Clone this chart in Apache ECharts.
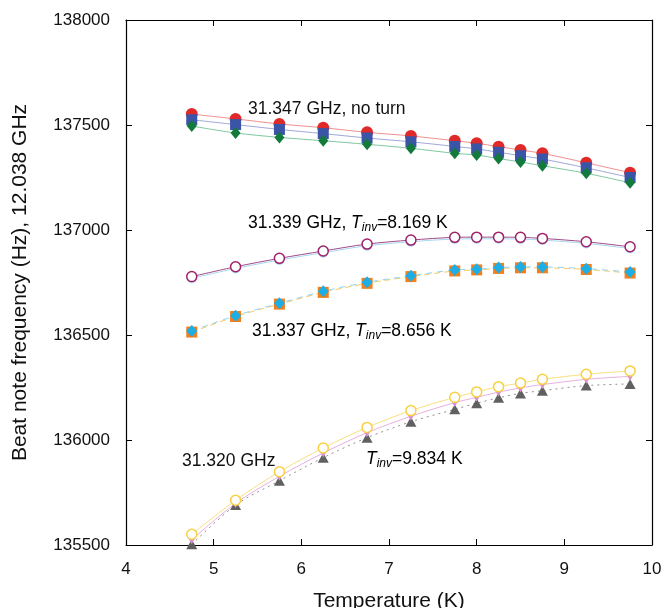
<!DOCTYPE html>
<html>
<head>
<meta charset="utf-8">
<script src="https://cdn.jsdelivr.net/npm/echarts@6/dist/echarts.min.js"></script>
<style>
html,body{margin:0;padding:0;background:#fff;}
#c{width:666px;height:608px;}
</style>
</head>
<body>
<div id="c"></div>
<script>
// Temperatures (K)
var temps = [4.75, 5.25, 5.75, 6.25, 6.75, 7.25, 7.75, 8.0, 8.25, 8.5, 8.75, 9.25, 9.75];

// 31.347 GHz, no turn
var noTurnRed   = [137552, 137529, 137505, 137487, 137465, 137448, 137425, 137413, 137397, 137381, 137365, 137320, 137273];
var noTurnBlue  = [137525, 137502, 137479, 137459, 137438, 137420, 137398, 137386, 137370, 137354, 137338, 137296, 137250];
var noTurnGreen = [137495, 137462, 137441, 137425, 137408, 137389, 137365, 137357, 137340, 137324, 137306, 137270, 137225];

// 31.339 GHz, Tinv = 8.169 K
var f339Purple = [136778, 136825, 136865, 136900, 136933, 136952, 136965, 136966, 136966, 136965, 136960, 136944, 136920];
var f339Light  = [136770, 136817, 136857, 136892, 136925, 136944, 136957, 136958, 136958, 136957, 136952, 136936, 136912];

// 31.337 GHz, Tinv = 8.656 K
var f337Orange = [136514, 136588, 136647, 136703, 136746, 136778, 136805, 136810, 136817, 136820, 136820, 136812, 136795];
var f337Cyan   = [136519, 136592, 136651, 136708, 136751, 136782, 136810, 136813, 136821, 136824, 136824, 136816, 136800];

// 31.320 GHz, Tinv = 9.834 K
var f320Yellow = [135551, 135713, 135849, 135962, 136060, 136140, 136203, 136229, 136254, 136271, 136289, 136313, 136329];
var f320Pink   = [135525, 135698, 135827, 135938, 136035, 136113, 136178, 136203, 136228, 136248, 136264, 136289, 136303];
var f320Gray   = [135503, 135690, 135806, 135916, 136011, 136087, 136146, 136175, 136201, 136222, 136235, 136259, 136267];

// Axis ticks
var xTicks = [4, 5, 6, 7, 8, 9, 10];
var yTicks = [135500, 136000, 136500, 137000, 137500, 138000];

function pairs(vals) { return temps.map(function (t, i) { return [t, vals[i]]; }); }

function ser(name, vals, o) {
  return {
    name: name, type: 'line', data: pairs(vals), smooth: 0.3,
    symbol: o.symbol, symbolSize: o.size, symbolRotate: o.rotate || 0,
    lineStyle: { color: o.line, width: o.lw || 1, type: o.ltype || 'solid' },
    itemStyle: { color: o.fill, borderColor: o.border || o.fill, borderWidth: o.bw || 0 },
    emphasis: { disabled: true }, silent: true, z: 2
  };
}

var chart = echarts.init(document.getElementById('c'), null, { renderer: 'canvas' });
var font = 'Liberation Sans, Arial, Helvetica, sans-serif';
var sub = function (base, t, v) {
  return '{n|' + base + '}{i|T}{s|inv}{n|' + v + '}';
};
var rich = {
  n: { fontSize: 17.5, fontFamily: font, color: '#111' },
  i: { fontSize: 17.5, fontFamily: font, fontStyle: 'italic', color: '#111' },
  s: { fontSize: 12, fontFamily: font, fontStyle: 'italic', color: '#111', padding: [10, 0, 0, 0] }
};

var option = {
  animation: false,
  backgroundColor: '#fff',
  grid: { left: 126, top: 20, right: 14, bottom: 63, containLabel: false, outerBoundsMode: 'none' },
  xAxis: [{
    type: 'value', min: xTicks[0], max: xTicks[xTicks.length - 1], interval: 1,
    name: 'Temperature (K)', nameLocation: 'middle', nameGap: 46,
    nameTextStyle: { fontSize: 21, fontFamily: font, color: '#111' },
    axisLine: { show: true, lineStyle: { color: '#000', width: 1.2 } },
    axisTick: { show: true, inside: true, length: 6, lineStyle: { color: '#000' } },
    axisLabel: { fontSize: 17, fontFamily: font, color: '#111', margin: 16 },
    splitLine: { show: false }
  }, {
    type: 'value', position: 'top', min: xTicks[0], max: xTicks[xTicks.length - 1], interval: 1,
    axisLine: { show: true, lineStyle: { color: '#000', width: 1.2 } },
    axisTick: { show: true, inside: true, length: 6, lineStyle: { color: '#000' } },
    axisLabel: { show: false }, splitLine: { show: false }
  }],
  yAxis: [{
    type: 'value', min: yTicks[0], max: yTicks[yTicks.length - 1], interval: 500,
    name: 'Beat note frequency (Hz), 12.038 GHz', nameLocation: 'middle', nameGap: 95,
    nameTextStyle: { fontSize: 21, fontFamily: font, color: '#111' },
    axisLine: { show: true, lineStyle: { color: '#000', width: 1.2 } },
    axisTick: { show: true, inside: true, length: 6, lineStyle: { color: '#000' } },
    axisLabel: { fontSize: 17, fontFamily: font, color: '#111', margin: 16,
      formatter: function (v) { return String(v); } },
    splitLine: { show: false }
  }, {
    type: 'value', position: 'right', min: yTicks[0], max: yTicks[yTicks.length - 1], interval: 500,
    axisLine: { show: true, lineStyle: { color: '#000', width: 1.2 } },
    axisTick: { show: true, inside: true, length: 6, lineStyle: { color: '#000' } },
    axisLabel: { show: false }, splitLine: { show: false }
  }],
  series: [
    ser('red', noTurnRed, { symbol: 'circle', size: 12, fill: '#e02a2a', line: '#f09090' }),
    ser('blue', noTurnBlue, { symbol: 'rect', size: 11, fill: '#3a55a8', line: '#a0a8d8' }),
    ser('green', noTurnGreen, { symbol: 'diamond', size: [10, 12], fill: '#127a3a', line: '#80c8a0' }),

    ser('light', f339Light, { symbol: 'circle', size: 10, fill: '#a8d8f0', line: '#a8d8f0' }),
    ser('purple', f339Purple, { symbol: 'circle', size: 10, fill: '#fff', border: '#a0206a', bw: 1.5, line: '#a04c86' }),

    ser('orange', f337Orange, { symbol: 'rect', size: 11, fill: '#f07f1c', line: '#f8c860', ltype: [6, 4] }),
    ser('cyan', f337Cyan, { symbol: 'diamond', size: [11, 12], fill: '#1eaee6', line: '#90d4f0', ltype: [6, 5] }),

    ser('gray', f320Gray, { symbol: 'triangle', size: [11, 10], fill: '#606060', line: '#909090', ltype: [2, 4] }),
    ser('pink', f320Pink, { symbol: 'triangle', rotate: 180, size: [10, 9], fill: '#d890d0', line: '#e8b0e0' }),
    ser('yellow', f320Yellow, { symbol: 'circle', size: 10, fill: '#fff', border: '#f8d040', bw: 1.5, line: '#f8e080' })
  ],
  graphic: [
    { type: 'text', left: 248, top: 100, style: { text: '31.347 GHz, no turn', fontSize: 17.5, fontFamily: font, fill: '#111' } },
    { type: 'text', left: 248, top: 214, style: { text: sub('31.339 GHz, ', 'T', '=8.169 K'), rich: rich } },
    { type: 'text', left: 252, top: 322, style: { text: sub('31.337 GHz, ', 'T', '=8.656 K'), rich: rich } },
    { type: 'text', left: 182, top: 452, style: { text: '31.320 GHz', fontSize: 17.5, fontFamily: font, fill: '#111' } },
    { type: 'text', left: 366, top: 450, style: { text: '{i|T}{s|inv}{n|=9.834 K}', rich: rich } }
  ]
};
chart.setOption(option);
</script>
</body>
</html>
